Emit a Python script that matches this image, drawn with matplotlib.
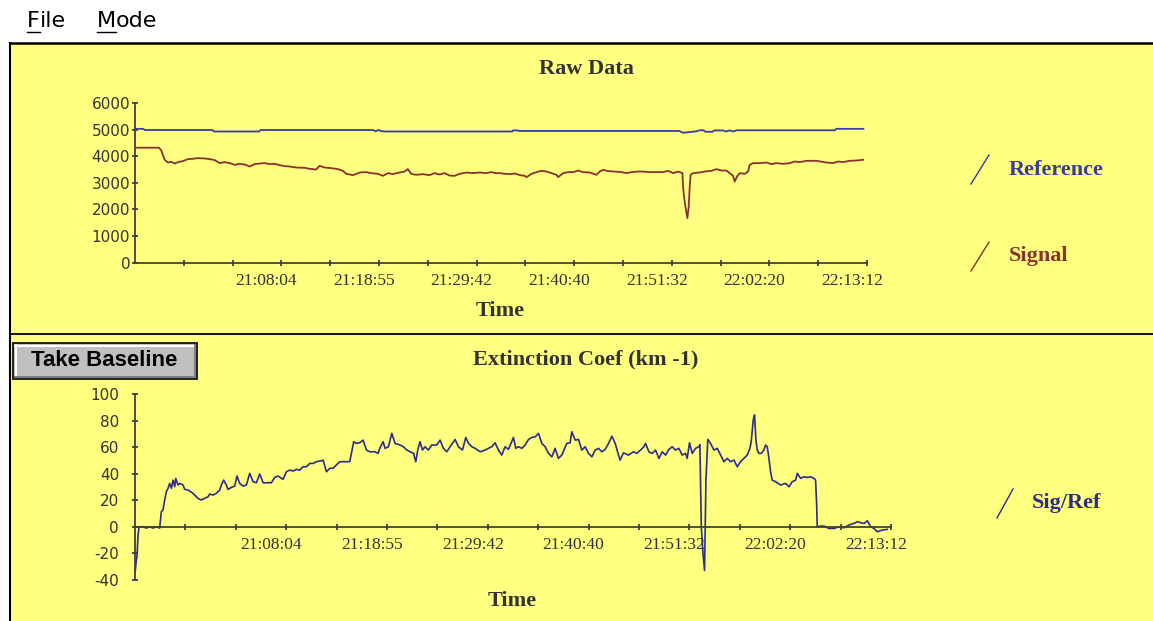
import matplotlib
matplotlib.use("Agg")
import matplotlib.pyplot as plt
import matplotlib.transforms as mtransforms
from matplotlib.lines import Line2D
from matplotlib.patches import Rectangle

plt.rcParams["axes.unicode_minus"] = False

# ---- data (elapsed minutes from start of record) ----
tick_labels = ["21:08:04", "21:18:55", "21:29:42", "21:40:40",
               "21:51:32", "22:02:20", "22:13:12"]
tick_step = 326 / 60.0          # minutes between axis ticks
n_ticks = 15

ref_t = [0, 0.9, 1.1, 8.6, 8.8, 13.8, 14.0, 26.5, 26.8, 27.1, 27.4, 27.8,
         42.0, 42.1, 42.6, 42.8, 60.6, 61.0, 61.5, 62.4, 62.9, 63.3, 63.5,
         64.3, 64.5, 65.5, 65.8, 66.2, 66.6, 67.0, 77.9, 78.1, 81.1]
ref_v = [5030, 5030, 4985, 4985, 4930, 4930, 4985, 4985, 4940, 4985, 4945, 4930,
         4930, 4970, 4970, 4950, 4950, 4880, 4900, 4930, 4975, 4975, 4920,
         4920, 4970, 4970, 4930, 4970, 4930, 4975, 4975, 5030, 5030]

sig_t = [0, 2.67, 2.93, 3.30, 3.67, 4.04, 4.42, 4.79, 5.34, 5.90, 6.45, 7.01,
         7.76, 8.31, 8.87, 9.43, 9.98, 10.54, 11.10, 11.65, 12.21, 12.77, 13.32,
         13.88, 14.43, 14.99, 15.55, 16.10, 16.66, 17.22, 17.95, 18.89, 19.44,
         20.18, 20.55, 21.11, 21.85, 22.59, 23.15, 23.52, 24.26, 25.01, 25.74,
         26.30, 27.04, 27.60, 28.16, 28.71, 29.46, 30.01, 30.38, 30.75, 31.31,
         32.05, 32.80, 33.35, 33.91, 34.47, 35.02, 35.58, 36.14, 36.87, 37.62,
         38.36, 39.10, 39.65, 40.21, 40.62, 41.18, 41.73, 42.29, 42.85, 43.40,
         43.59, 44.15, 44.70, 45.26, 45.82, 46.37, 46.93, 47.11, 47.67, 48.22,
         48.78, 49.34, 49.89, 50.64, 51.38, 51.75, 52.12, 52.68, 53.42, 54.16,
         54.72, 55.28, 56.02, 56.57, 57.31, 58.06, 58.80, 59.35, 59.91, 60.47,
         60.95, 61.02, 61.13, 61.28, 61.50, 61.65, 61.76, 61.87, 62.13, 62.88,
         63.43, 64.18, 64.74, 65.29, 65.85, 66.22, 66.59, 66.77, 67.03, 67.33,
         67.89, 68.26, 68.44, 68.82, 69.56, 70.30, 70.86, 71.42, 72.16, 72.90,
         73.46, 74.02, 74.76, 75.87, 76.98, 77.72, 78.28, 78.83, 79.57, 80.32,
         81.06]
sig_v = [4320, 4320, 4216, 3866, 3764, 3790, 3726, 3779, 3817, 3892, 3903, 3930,
         3915, 3892, 3854, 3741, 3779, 3741, 3677, 3715, 3689, 3614, 3704,
         3726, 3741, 3704, 3715, 3666, 3628, 3614, 3576, 3565, 3527,
         3501, 3640, 3576, 3553, 3516, 3452, 3339, 3290, 3388, 3403,
         3365, 3339, 3263, 3365, 3327, 3388, 3425, 3516, 3339, 3301,
         3327, 3290, 3365, 3312, 3365, 3275, 3263, 3339, 3388, 3365,
         3388, 3365, 3403, 3365, 3365, 3339, 3327, 3350, 3290, 3263,
         3214, 3339, 3403, 3452, 3425, 3365, 3301, 3214, 3365, 3403,
         3403, 3463, 3403, 3388, 3301, 3425, 3489, 3440, 3425, 3403,
         3365, 3403, 3425, 3425, 3403, 3403, 3403, 3452, 3365, 3425,
         3365, 2861, 2484, 2108, 1671, 2108, 2861, 3301, 3365, 3388,
         3425, 3452, 3516, 3463, 3463, 3365, 3263, 3049, 3237, 3365,
         3339, 3425, 3677, 3741, 3741, 3764, 3704, 3741, 3715, 3741,
         3802, 3779, 3828, 3828, 3764, 3741, 3802, 3779, 3828, 3839,
         3866]

ext_t = [0, 0.15, 0.22, 0.32, 0.43, 0.86, 1.22, 1.58, 1.94, 2.30, 2.66, 2.84,
         3.02, 3.20, 3.38, 3.56, 3.74, 3.92, 4.10, 4.28, 4.39, 4.64, 4.82, 5.18,
         5.36, 5.72, 6.26, 6.79, 7.15, 7.51, 7.87, 8.05, 8.41, 8.77, 9.13, 9.31,
         9.56, 9.85, 10.03, 10.39, 10.75, 11.00, 11.29, 11.65, 12.01, 12.37,
         12.73, 13.09, 13.45, 13.81, 14.16, 14.70, 15.06, 15.42, 15.96, 16.32,
         16.68, 17.04, 17.40, 17.76, 18.12, 18.48, 18.84, 19.20, 19.56, 20.10,
         20.28, 20.64, 21.00, 21.35, 21.71, 22.07, 22.61, 23.15, 23.33, 23.58,
         23.87, 24.23, 24.59, 24.95, 25.31, 25.85, 26.21, 26.39, 26.75,
         26.96, 27.32, 27.68, 28.04, 28.58, 28.94, 29.30, 29.66, 30.02, 30.27,
         30.48, 30.73, 30.99, 31.27, 31.63, 31.99, 32.53, 32.89, 33.25, 33.61,
         33.97, 34.51, 34.87, 35.30, 35.66, 35.95, 36.31, 36.67, 37.21, 37.75,
         38.10, 38.46, 38.82, 39.18, 39.54, 39.90, 40.26, 40.80, 41.05, 41.34,
         41.70, 42.06, 42.42, 42.78, 43.14, 43.50, 43.86, 44.22, 44.58, 44.94,
         45.29, 45.65, 46.01, 46.55, 46.91, 47.09, 47.45, 47.81, 48.17, 48.53,
         48.89, 49.25, 49.61, 49.97, 50.33, 50.69, 51.05, 51.41, 51.77, 52.13,
         52.30, 52.66, 53.20, 53.74, 54.10, 54.50, 54.86, 55.04, 55.40, 55.76,
         56.12, 56.48, 56.84, 57.20, 57.56, 57.91, 58.27, 58.63, 58.99, 59.35,
         59.53, 59.78, 60.07, 60.43, 60.79, 60.90, 60.97, 61.05, 61.22, 61.40,
         61.55, 61.75, 62.05, 62.41, 62.77, 63.13, 63.49, 63.85, 64.21, 64.57,
         64.93, 65.28, 65.64, 66.00, 66.29, 66.43, 66.65, 66.79, 66.94, 67.08,
         67.26, 67.51, 67.80, 67.98, 68.16, 68.34, 68.52, 68.70, 69.06, 69.60,
         70.14, 70.50, 70.86, 71.22, 71.40, 71.76, 72.12, 72.47, 72.83, 73.19,
         73.37, 73.48, 73.55, 73.91, 74.27, 74.81, 75.35, 75.89, 76.43, 76.97,
         77.51, 77.87, 78.23, 78.59, 78.95, 79.31, 79.67, 80.02, 80.56, 81.10]
ext_v = [-35, -25, -22, -7.5, 0, 0, -1, 0, -1, 0, -1, 11.3,
         12.6, 20.2, 26.4, 29.0, 32.7, 29.0, 35.2, 30.2, 36.5, 31.5, 32.7, 31.5,
         28.2, 27.7, 25.2, 21.4, 20.2, 21.4, 22.6, 24.7, 23.9, 25.2, 27.7, 31.5,
         35.2, 31.5, 28.2, 29.7, 30.7, 38.3, 32.7, 30.7, 31.5, 40.3,
         34.0, 33.2, 39.8, 33.2, 33.2, 33.2, 37.3, 38.3, 35.8, 41.5,
         42.8, 42.0, 43.3, 42.8, 45.3, 45.3, 47.8, 47.8, 49.1, 49.8,
         50.3, 41.5, 44.1, 44.1, 46.6, 49.1, 49.1, 49.1, 55.4, 64.2,
         62.9, 63.4, 65.4, 57.9, 56.6, 56.6, 55.4, 59.2, 64.2,
         59.2, 60.4, 70.5, 62.9, 61.7, 60.4, 57.9, 56.6, 55.4, 49.1,
         57.9, 64.2, 57.9, 60.4, 57.9, 61.7, 61.7, 65.4, 59.2, 56.6,
         60.4, 65.9, 60.4, 57.9, 67.4, 62.9, 60.4, 59.2, 56.6, 57.9,
         59.2, 60.4, 63.4, 57.9, 54.1, 60.4, 58.4, 67.4, 59.2, 60.4,
         59.2, 61.7, 65.9, 67.4, 67.9, 70.5, 62.9, 60.4, 55.4, 52.8,
         59.2, 51.6, 54.1, 62.9, 63.4, 71.7, 65.4, 65.9, 57.9, 60.4,
         55.4, 52.8, 57.9, 59.2, 56.6, 58.4, 62.9, 68.4, 62.9, 54.1,
         50.3, 55.8, 54.1, 56.6, 55.4, 57.9, 60.4, 62.9, 56.6, 55.4,
         57.9, 51.6, 56.6, 54.1, 58.4, 60.4, 57.9, 59.2, 54.1, 55.4,
         51.6, 63.4, 55.4, 59.2, 60.4, 62.0, 35.0, 0, -19, -33,
         35.0, 66.0, 62.9, 57.9, 59.2, 54.1, 49.1, 51.6, 49.1, 50.3,
         45.3, 49.1, 51.6, 54.1, 59.2, 64.2, 80.6, 84.4, 65.4, 57.9,
         55.4, 55.4, 57.9, 61.7, 60.4, 51.6, 41.5, 35.2, 34.0, 31.5,
         32.7, 30.2, 34.0, 35.2, 40.3, 36.5, 37.7, 37.2, 37.7, 36.5,
         35.2, 17.6, 0, 0.5, 0.5, -1.3, -1.3, 0, -0.8, 1.3,
         2.5, 3.8, 3.0, 2.5, 4.5, 0, -1.3, -3.8, -2.5, -2.0]

# ---- styling ----
W, H = 1153, 621
yellow = "#ffff80"
axis_col = "#404040"
text_col = "#333333"
ref_col = "#3a3aa0"
sig_col = "#8c2f2f"
ext_col = "#2c2c8c"
serif = "Liberation Serif"


def fx(x):
    return x / W


def fy(y):
    return 1 - y / H


def fig_line(fig, x0, y0, x1, y1, color, lw):
    fig.add_artist(Line2D([fx(x0), fx(x1)], [fy(y0), fy(y1)],
                          transform=fig.transFigure, color=color, lw=lw))


def style_axes(fig, ax, ypad):
    ax.set_facecolor("none")
    for s in ["top", "right"]:
        ax.spines[s].set_visible(False)
    for s in ["left", "bottom"]:
        ax.spines[s].set_color(axis_col)
        ax.spines[s].set_linewidth(1.3)
    ax.set_xlim(0, n_ticks * tick_step)
    pos = [k * tick_step for k in range(1, n_ticks + 1)]
    labels = [""] * n_ticks
    for i, lab in enumerate(tick_labels):
        labels[2 + 2 * i] = lab
    ax.set_xticks(pos, labels=labels)
    ax.tick_params(axis="x", direction="inout", length=5, width=1.3,
                   color=axis_col, pad=5, labelcolor=text_col)
    ax.tick_params(axis="y", direction="inout", length=5, width=1.3,
                   color=axis_col, pad=ypad, labelcolor=text_col)
    shift = mtransforms.ScaledTranslation(-0.15, 0, fig.dpi_scale_trans)
    for lab in ax.get_xticklabels():
        lab.set_fontfamily(serif)
        lab.set_fontsize(12.5)
        lab.set_transform(lab.get_transform() + shift)
    for lab in ax.get_yticklabels():
        lab.set_fontfamily("DejaVu Sans")
        lab.set_fontsize(11)


fig = plt.figure(figsize=(W / 100, H / 100), dpi=100)
fig.patch.set_facecolor("white")

# yellow panel and borders (behind the axes)
fig.add_artist(Rectangle((fx(10), 0), 1 - fx(10), fy(43), transform=fig.transFigure,
                         facecolor=yellow, edgecolor="none", zorder=-5))
fig_line(fig, 10, 43, W, 43, "black", 1.8)
fig_line(fig, 10, 43, 10, H, "black", 1.5)
fig_line(fig, 10, 333.5, W, 333.5, "black", 1.3)

# menu bar
renderer = fig.canvas.get_renderer()
for x0, word in [(27, "File"), (97, "Mode")]:
    first = fig.text(fx(x0), fy(21), word[0], fontsize=16, family="DejaVu Sans",
                     va="center", ha="left", color="black")
    bb = first.get_window_extent(renderer)
    fig.text(fx(x0) + bb.width / W, fy(21), word[1:], fontsize=16,
             family="DejaVu Sans", va="center", ha="left", color="black")
    fig_line(fig, x0, 31.5, x0 + bb.width, 31.5, "black", 1.0)

# ---- raw data panel ----
ax1 = fig.add_axes([fx(135), fy(262.7), (867 - 135) / W, (262.7 - 103) / H])
ax1.plot(ref_t, ref_v, color=ref_col, lw=1.3)
ax1.plot(sig_t, sig_v, color=sig_col, lw=1.3)
ax1.set_ylim(0, 6000)
ax1.set_yticks(range(0, 6001, 1000))
style_axes(fig, ax1, 1)

fig.text(fx(586), fy(69), "Raw Data", family=serif, fontweight="bold",
         fontsize=16, color=text_col, ha="center", va="center")
fig.text(fx(500), fy(311), "Time", family=serif, fontweight="bold",
         fontsize=16, color=text_col, ha="center", va="center")

fig_line(fig, 971, 184, 989, 155, ref_col, 1.0)
fig.text(fx(1009), fy(170), "Reference", family=serif, fontweight="bold",
         fontsize=16, color=ref_col, ha="left", va="center")
fig_line(fig, 971, 271, 989, 242, sig_col, 1.0)
fig.text(fx(1009), fy(256), "Signal", family=serif, fontweight="bold",
         fontsize=16, color=sig_col, ha="left", va="center")

# ---- extinction panel ----
ax2 = fig.add_axes([fx(135), fy(579.7), (891 - 135) / W, (579.7 - 394.3) / H])
ax2.plot(ext_t, ext_v, color=ext_col, lw=1.2)
ax2.set_ylim(-40, 100)
ax2.set_yticks(range(-40, 101, 20))
ax2.spines["bottom"].set_position(("data", 0))
style_axes(fig, ax2, 9)

fig.text(fx(586), fy(359), "Extinction Coef (km -1)", family=serif,
         fontweight="bold", fontsize=16, color=text_col, ha="center", va="center")
fig.text(fx(512), fy(601), "Time", family=serif, fontweight="bold",
         fontsize=16, color=text_col, ha="center", va="center")

fig_line(fig, 997, 518, 1013, 489, ext_col, 1.0)
fig.text(fx(1032), fy(503), "Sig/Ref", family=serif, fontweight="bold",
         fontsize=16, color=ext_col, ha="left", va="center")

# Take Baseline button
fig.add_artist(Rectangle((fx(13), fy(379)), 184 / W, 36 / H, transform=fig.transFigure,
                         facecolor="#c0c0c0", edgecolor="black", lw=1.2))
fig_line(fig, 15, 345.5, 195, 345.5, "white", 1.5)
fig_line(fig, 15.5, 345, 15.5, 377, "white", 1.5)
fig_line(fig, 15, 376.5, 195, 376.5, "#808080", 1.5)
fig_line(fig, 194.5, 345, 194.5, 377, "#808080", 1.5)
fig.text(fx(104), fy(361), "Take Baseline", family="Liberation Sans",
         fontweight="bold", fontsize=16, color="black", ha="center", va="center")

fig.savefig("out.png", dpi=100, facecolor=fig.get_facecolor())
